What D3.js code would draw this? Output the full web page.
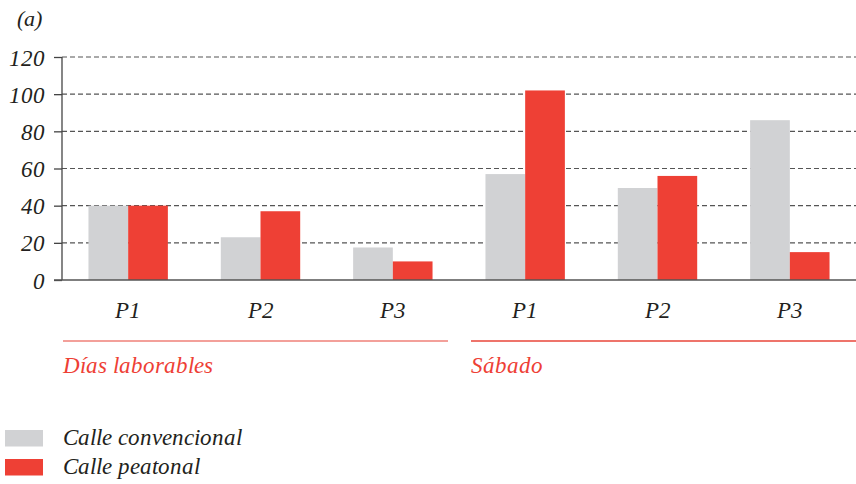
<!DOCTYPE html>
<html>
<head>
<meta charset="utf-8">
<style>
  @font-face { font-family: "ChartSerif"; font-style: italic; font-weight: 400;
    src: local("Liberation Serif Italic"), local("LiberationSerif-Italic"), local("Tinos Italic"), local("Tinos-Italic"); }
  html, body { margin: 0; padding: 0; background: #fff; }
  svg { display: block; }
</style>
<script src="https://cdn.jsdelivr.net/npm/d3@7"></script>
</head>
<body>
<svg id="chart" width="856" height="484"></svg>
<script>
// Periods, grouped by day type
const periods = ["P1", "P2", "P3", "P1", "P2", "P3"];
const dayGroups = ["Días laborables", "Sábado"];
const seriesNames = ["Calle convencional", "Calle peatonal"];
const convencional = [40, 23, 17.5, 57, 49.5, 86];
const peatonal = [40, 37, 10, 102, 56, 15];
const yTicks = [0, 20, 40, 60, 80, 100, 120];

const colors = ["#d1d2d4", "#ee4035"];
const FONT = "ChartSerif, 'Liberation Serif', Tinos, 'Times New Roman', serif";
const INK = "#231f20";

const svg = d3.select("#chart");
const plotLeft = 62, plotRight = 856, plotTop = 57, plotBottom = 280;

const x = d3.scaleBand().domain(d3.range(periods.length)).range([plotLeft, plotRight])
  .paddingInner(0.4).paddingOuter(0.2);
const xs = d3.scaleBand().domain([0, 1]).range([0, x.bandwidth()]);
const y = d3.scaleLinear().domain([0, 120]).range([plotBottom, plotTop]);

function italic(sel, size, color) {
  return sel.style("font-family", FONT).style("font-style", "italic")
    .style("font-size", size + "px").attr("fill", color || INK);
}

// Panel label
italic(svg.append("text").attr("x", 17).attr("y", 26), 22).text("(a)");

// Dashed grid lines
svg.append("g").selectAll("line").data(yTicks.filter(d => d > 0)).join("line")
  .attr("x1", plotLeft).attr("x2", plotRight)
  .attr("y1", d => y(d)).attr("y2", d => y(d))
  .attr("stroke", "#555").attr("stroke-width", 1.1).attr("stroke-dasharray", "5,3");

// Bars
const groups = svg.append("g").selectAll("g").data(periods.map((p, i) => i)).join("g")
  .attr("transform", i => `translate(${x(i)},0)`);
groups.selectAll("rect").data(i => [convencional[i], peatonal[i]]).join("rect")
  .attr("x", (d, k) => xs(k)).attr("width", xs.bandwidth())
  .attr("y", d => y(d)).attr("height", d => y(0) - y(d))
  .attr("fill", (d, k) => colors[k]);

// Y axis
const yAxis = d3.axisLeft(y).tickValues(yTicks).tickSize(8).tickPadding(9).tickFormat(d3.format("d"));
const ga = svg.append("g").attr("transform", `translate(${plotLeft},0)`).call(yAxis);
ga.attr("font-family", null);
ga.select(".domain").attr("stroke", "#444").attr("stroke-width", 1.3).attr("d", `M0,${plotTop}V${plotBottom}`);
ga.selectAll(".tick line").attr("stroke", "#444").attr("stroke-width", 1.3);
italic(ga.selectAll(".tick text"), 23).attr("dy", "0.35em");

// Baseline
svg.append("line").attr("x1", plotLeft - 8).attr("x2", plotRight).attr("y1", y(0)).attr("y2", y(0))
  .attr("stroke", "#555").attr("stroke-width", 1.5);

// Period labels
italic(svg.append("g").selectAll("text").data(periods).join("text")
  .attr("x", (d, i) => x(i) + x.bandwidth() / 2).attr("y", 318)
  .attr("text-anchor", "middle"), 23).text(d => d);

// Day group brackets and labels
const groupSpans = [[63, 448], [471, 856]];
const groupLine = [{ c: "#f3a09a", w: 2.2 }, { c: "#e8463a", w: 1.3 }];
dayGroups.forEach((g, i) => {
  svg.append("line").attr("x1", groupSpans[i][0]).attr("x2", groupSpans[i][1])
    .attr("y1", 341).attr("y2", 341).attr("stroke", groupLine[i].c).attr("stroke-width", groupLine[i].w);
  italic(svg.append("text").attr("x", groupSpans[i][0]).attr("y", 373), 23, "#ee4035").text(g);
});

// Legend
const lg = svg.append("g").selectAll("g").data(seriesNames).join("g")
  .attr("transform", (d, i) => `translate(5,${430 + i * 29})`);
lg.append("rect").attr("width", 38).attr("height", 16.5).attr("fill", (d, i) => colors[i]);
italic(lg.append("text").attr("x", 58).attr("y", 15), 23).text(d => d);
</script>
</body>
</html>
